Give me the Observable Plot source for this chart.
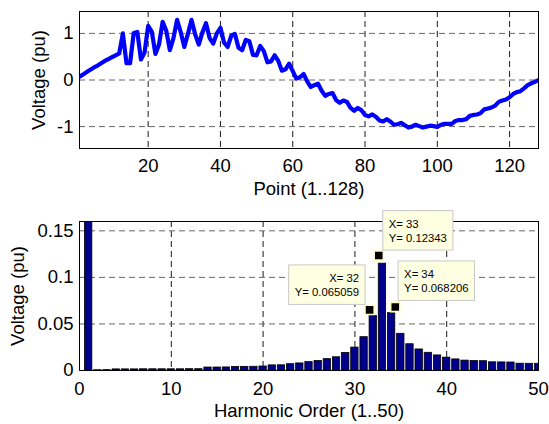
<!DOCTYPE html>
<html>
<head>
<meta charset="utf-8">
<script src="https://cdn.jsdelivr.net/npm/d3@7"></script>
<script src="https://cdn.jsdelivr.net/npm/@observablehq/plot@0.6"></script>
<style>
  body { margin: 0; background: #fff; }
  #chart { width: 549px; height: 424px; position: relative; overflow: hidden; }
  #chart svg { display: block; }
</style>
</head>
<body>
<div id="chart"></div>
<script>
// ---- data ----
const waveform = [
  0.07, 0.12, 0.17, 0.22, 0.27, 0.31, 0.36, 0.41, 0.45, 0.49, 0.53, 0.57,
  1.00, 0.36, 0.36, 1.01, 1.03, 0.44, 0.59, 1.16, 1.04, 0.56, 0.76, 1.25,
  1.06, 0.64, 0.90, 1.29, 1.03, 0.71, 0.99, 1.29, 0.98, 0.76, 1.02, 1.22,
  0.90, 0.78, 1.00, 1.12, 0.80, 0.71, 0.95, 0.99, 0.69, 0.64, 0.86, 0.83,
  0.54, 0.53, 0.73, 0.62, 0.38, 0.40, 0.53, 0.41, 0.20, 0.23, 0.35, 0.19,
  0.03, 0.06, 0.13, -0.03, -0.15, -0.11, -0.08, -0.23, -0.34, -0.30, -0.28, -0.43,
  -0.49, -0.44, -0.47, -0.60, -0.66, -0.60, -0.65, -0.75, -0.78, -0.74, -0.79, -0.87,
  -0.89, -0.84, -0.89, -0.96, -0.95, -0.92, -0.97, -1.02, -1.00, -0.96, -0.99, -1.02,
  -1.00, -0.98, -0.99, -1.01, -0.96, -0.94, -0.94, -0.94, -0.88, -0.86, -0.86, -0.84,
  -0.77, -0.75, -0.74, -0.71, -0.63, -0.61, -0.59, -0.55, -0.47, -0.44, -0.42, -0.37,
  -0.30, -0.26, -0.24, -0.18, -0.11, -0.07, -0.04, 0.00
];
const harmonicOrder = d3.range(1, 51);
const harmonicVoltage = [
  1.0, 0.0003, 0.0004, 0.0012, 0.0012, 0.0012, 0.0013, 0.0013, 0.0013, 0.0013,
  0.0013, 0.0014, 0.0014, 0.0032, 0.0032, 0.0033, 0.0038, 0.0039, 0.0040, 0.0043,
  0.0055, 0.0056, 0.0068, 0.0076, 0.0090, 0.0102, 0.0122, 0.0142, 0.0188, 0.0246,
  0.0358, 0.0585, 0.1147, 0.0616, 0.0394, 0.0282, 0.0226, 0.0190, 0.0162, 0.0138,
  0.0119, 0.0106, 0.0101, 0.0100, 0.0088, 0.0087, 0.0086, 0.0073, 0.0072, 0.0072
];
// data-cursor tips (marker position snapped to a bar corner, value shown)
const tipOrder = [32, 33, 34];
const tipX = [31.6, 32.6, 34.4];
const tipY = [0.065059, 0.12343, 0.068206];
const tipText = ["X= 32\nY= 0.065059", "X= 33\nY= 0.12343", "X= 34\nY= 0.068206"];

const topXTicks = [20, 40, 60, 80, 100, 120];
const topYTicks = [-1, 0, 1];
const botXTicks = [0, 10, 20, 30, 40, 50];
const botYTicks = [0, 0.05, 0.1, 0.15];

const topXLabel = "Point (1..128)";
const botXLabel = "Harmonic Order (1..50)";
const yLabel = "Voltage (pu)";

// ---- build tables ----
const wave = waveform.map((v, i) => ({k: i + 1, v}));
const harm = harmonicOrder.map((h, i) => ({h, v: harmonicVoltage[i]}));
const tips = tipOrder.map((h, i) => ({h, x: tipX[i], y: tipY[i], label: tipText[i]}));

const font = '"Liberation Sans", Arial, Helvetica, sans-serif';
const baseStyle = {fontFamily: font, fontSize: "18.5px", background: "white", color: "black", overflow: "visible"};
const fmt = d => String(d);

const topPlot = Plot.plot({
  width: 549, height: 200,
  marginLeft: 79, marginRight: 11, marginTop: 11, marginBottom: 52,
  style: baseStyle,
  x: {domain: [1, 128]},
  y: {domain: [-1.47, 1.47]},
  marks: [
    Plot.gridX({ticks: topXTicks, stroke: "#000", strokeOpacity: 1, strokeWidth: 0.9, strokeDasharray: "6,4"}),
    Plot.gridY({ticks: topYTicks, stroke: "#666", strokeOpacity: 1, strokeWidth: 1, strokeDasharray: "6,4"}),
    Plot.line(wave, {x: "k", y: "v", stroke: "#0000ff", strokeWidth: 4.2, strokeLinejoin: "round", strokeLinecap: "round", clip: true}),
    Plot.frame({stroke: "black", strokeWidth: 1}),
    Plot.axisX({ticks: topXTicks, tickSize: 0, tickPadding: 10, tickFormat: fmt,
      label: topXLabel, labelAnchor: "center", labelOffset: 46, labelArrow: "none"}),
    Plot.axisY({ticks: topYTicks, tickSize: 0, tickPadding: 6, tickFormat: fmt,
      label: yLabel, labelAnchor: "center", labelOffset: 48, labelArrow: "none"})
  ]
});

const tipMark = (i, anchor, dx, dy) => Plot.text([tips[i]], {
  x: "x", y: "y", text: "label", textAnchor: anchor, lineAnchor: "bottom",
  dx, dy, fontSize: 11.3, lineHeight: 1.28, fill: "black", ariaDescription: "datatip"
});

const botPlot = Plot.plot({
  width: 549, height: 224,
  marginLeft: 79, marginRight: 11, marginTop: 21, marginBottom: 54,
  style: baseStyle,
  x: {domain: [0, 50]},
  y: {domain: [0, 0.16]},
  marks: [
    Plot.gridX({ticks: botXTicks.slice(1, -1), stroke: "#000", strokeOpacity: 1, strokeWidth: 0.9, strokeDasharray: "6,4"}),
    Plot.gridY({ticks: botYTicks.slice(1), stroke: "#666", strokeOpacity: 1, strokeWidth: 1, strokeDasharray: "6,4"}),
    Plot.rect(harm, {x1: d => d.h - 0.4, x2: d => d.h + 0.4, y1: d => 0, y2: "v",
      fill: "#00008c", stroke: "black", strokeWidth: 0.8, clip: true}),
    Plot.frame({stroke: "black", strokeWidth: 1}),
    Plot.dot(tips, {x: "x", y: "y", symbol: "square", r: 5.2, fill: "black", stroke: "#ffffc8", strokeWidth: 1.6}),
    tipMark(0, "end", -10.5, -13.5),
    tipMark(1, "start", 10, -13.5),
    tipMark(2, "start", 8.8, -14.6),
    Plot.axisX({ticks: botXTicks, tickSize: 0, tickPadding: 11, tickFormat: fmt,
      label: botXLabel, labelAnchor: "center", labelOffset: 46, labelArrow: "none"}),
    Plot.axisY({ticks: botYTicks, tickSize: 0, tickPadding: 6, tickFormat: fmt,
      label: yLabel, labelAnchor: "center", labelOffset: 69, labelArrow: "none"})
  ]
});

const chart = document.getElementById("chart");
chart.appendChild(topPlot);
chart.appendChild(botPlot);

// datatip backgrounds
botPlot.querySelectorAll('[aria-description="datatip"] text').forEach(t => {
  const b = t.getBBox();
  const r = document.createElementNS("http://www.w3.org/2000/svg", "rect");
  r.setAttribute("x", b.x - 6);
  r.setAttribute("y", b.y - 7);
  r.setAttribute("width", b.width + 12);
  r.setAttribute("height", b.height + 13);
  r.setAttribute("fill", "#ffffe1");
  r.setAttribute("stroke", "#c8c8c8");
  r.setAttribute("stroke-width", "1");
  if (t.getAttribute("transform")) r.setAttribute("transform", t.getAttribute("transform"));
  t.parentNode.insertBefore(r, t);
});
</script>
</body>
</html>
